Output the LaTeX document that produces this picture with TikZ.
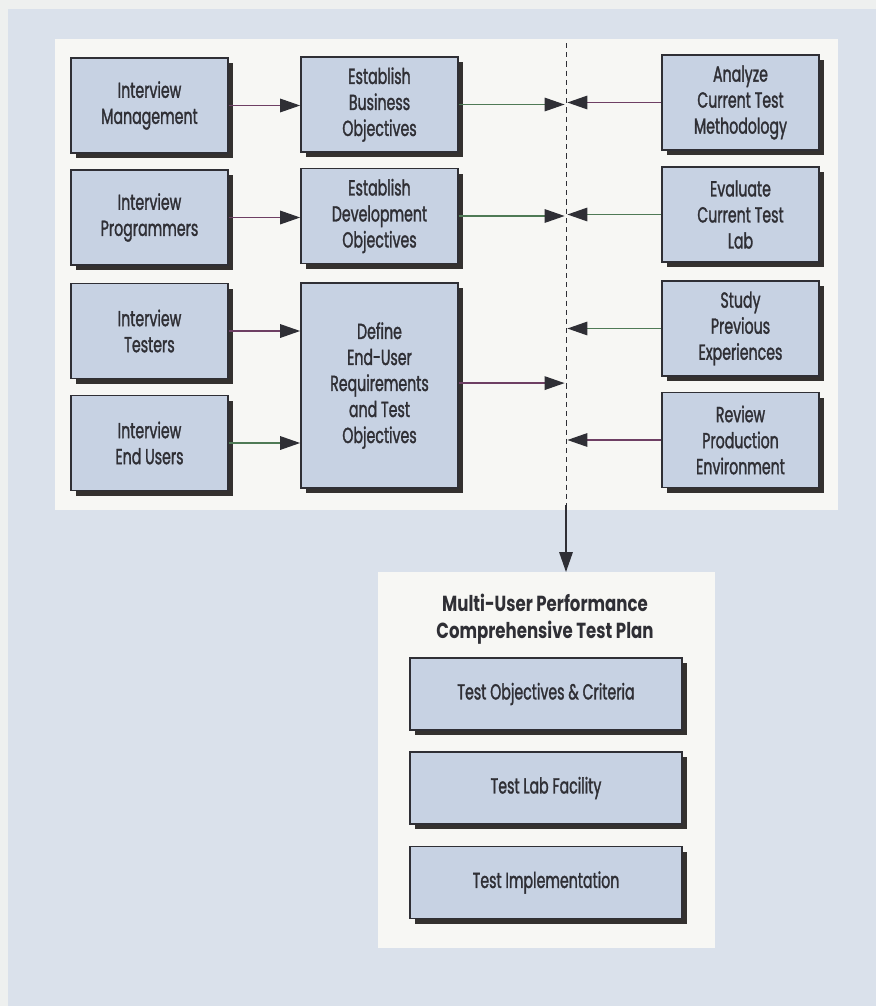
\documentclass[tikz,border=0pt]{standalone}
\usepackage{fontspec}
\setmainfont[FakeStretch=0.65, FakeBold=1.4]{Poppins}
\newfontfamily\tptitlefont[FakeStretch=0.76]{Poppins}
\usetikzlibrary{arrows.meta,shadows}
\definecolor{tpEdge}{HTML}{EEF0EF}
\definecolor{tpPage}{HTML}{DAE1EB}
\definecolor{tpPanel}{HTML}{F7F7F4}
\definecolor{tpBox}{HTML}{C7D2E3}
\definecolor{tpInk}{HTML}{2F2F35}
\definecolor{tpShade}{HTML}{34312F}
\definecolor{tpPlum}{HTML}{6E3F63}
\definecolor{tpMoss}{HTML}{4F7A55}
\tikzset{
  tp panel/.style={fill=tpPanel, draw=none},
  tp box/.style={rectangle, draw=tpInk, fill=tpBox, line width=1.2pt, inner sep=2pt,
    align=center, text=tpInk, font=\fontsize{15.5}{18.5}\selectfont,
    general shadow={fill=tpShade, shadow xshift=1.3mm, shadow yshift=-1.3mm}},
  tp link/.style={line width=0.9pt, -{Triangle[length=5mm, width=3.4mm, color=tpInk]}},
  tp guide/.style={draw=tpInk, line width=0.7pt, dash pattern=on 1.3mm off 1mm},
}

\begin{document}
\begin{tikzpicture}[x=0.025cm, y=-0.025cm,
  step box/.style={tp box, minimum width=3.925cm, minimum height=2.375cm},
  tall box/.style={tp box, minimum width=3.925cm, minimum height=5.125cm},
  plan box/.style={tp box, minimum width=6.8cm, minimum height=1.8cm},
  plan title/.style={align=center, text=tpInk, font=\tptitlefont\fontsize{15.5}{19.5}\selectfont\bfseries}
]
  % page and the two white panels
  \useasboundingbox (0,0) rectangle (876,1006);
  \fill[tpEdge] (0,0) rectangle (876,1006);
  \fill[tpPage] (8,9) rectangle (876,1006);
  \fill[tp panel] (55,39) rectangle (838,510);
  \fill[tp panel] (378,572) rectangle (715,948);

  % interviews
  \node[step box] (intMgmt) at (149.5,105.5) {Interview\\Management};
  \node[step box] (intProg) at (149.5,217.5) {Interview\\Programmers};
  \node[step box] (intTest) at (149.5,331) {Interview\\Testers};
  \node[step box] (intUsers) at (149.5,443) {Interview\\End Users};

  % objectives
  \node[step box] (estBiz) at (379.5,104.5) {Establish\\Business\\Objectives};
  \node[step box] (estDev) at (379.5,216) {Establish\\Development\\Objectives};
  \node[tall box] (defReq) at (379.5,385.5) {Define\\End-User\\Requirements\\and Test\\Objectives};

  % current state
  \node[step box] (analyze) at (740.5,102.5) {Analyze\\Current Test\\Methodology};
  \node[step box] (evaluate) at (740.5,214.5) {Evaluate\\Current Test\\Lab};
  \node[step box] (study) at (740.5,328.5) {Study\\Previous\\Experiences};
  \node[step box] (review) at (740.5,440) {Review\\Production\\Environment};

  % the merge line
  \coordinate (dashTop) at (566,43);
  \coordinate (dashFoot) at (566,505);
  \coordinate (planTop) at (566,572);
  \draw[tp guide] (dashTop) -- (dashFoot);

  \draw[tp link, draw=tpPlum] (intMgmt.east) -- (intMgmt.east -| estBiz.west);
  \draw[tp link, draw=tpPlum] (intProg.east) -- (intProg.east -| estDev.west);
  \draw[tp link, draw=tpPlum] (intTest.east) -- (intTest.east -| defReq.west);
  \draw[tp link, draw=tpMoss] (intUsers.east) -- (intUsers.east -| defReq.west);

  \draw[tp link, draw=tpMoss, shorten >=1pt] (estBiz.east) -- (estBiz.east -| dashTop);
  \draw[tp link, draw=tpMoss, shorten >=1pt] (estDev.east) -- (estDev.east -| dashTop);
  \draw[tp link, draw=tpPlum, shorten >=1pt] ([yshift=0.06cm]defReq.east) -- ([yshift=0.06cm]defReq.east -| dashTop);

  \draw[tp link, draw=tpPlum, shorten >=1pt] (analyze.west) -- (analyze.west -| dashTop);
  \draw[tp link, draw=tpMoss, shorten >=1pt] (evaluate.west) -- (evaluate.west -| dashTop);
  \draw[tp link, draw=tpMoss, shorten >=1pt] (study.west) -- (study.west -| dashTop);
  \draw[tp link, draw=tpPlum, shorten >=1pt] (review.west) -- (review.west -| dashTop);

  \draw[tp link, draw=tpInk] (dashFoot) -- (planTop);

  % test plan
  \node[plan title] (planTitle) at (545,619) {Multi-User Performance\\Comprehensive Test Plan};
  \node[plan box] (planObj) at (546,694) {Test Objectives \& Criteria};
  \node[plan box] (planLab) at (546,788) {Test Lab Facility};
  \node[plan box] (planImpl) at (546,882.5) {Test Implementation};
\end{tikzpicture}
\end{document}
